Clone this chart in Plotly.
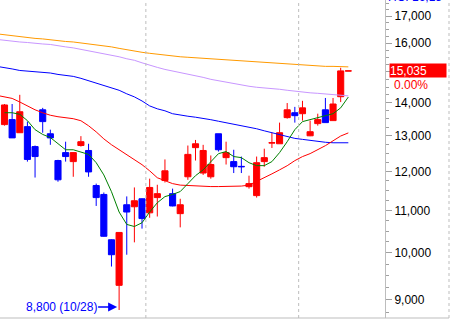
import math
import plotly.graph_objects as go

# ---- data ----
dates = ["10/07", "10/08", "10/09", "10/10", "10/13", "10/14", "10/15", "10/16", "10/17", "10/20",
         "10/21", "10/22", "10/23", "10/24", "10/27", "10/28", "10/29", "10/30", "10/31", "11/03",
         "11/04", "11/05", "11/06", "11/07", "11/10", "11/11", "11/12", "11/13", "11/14", "11/17",
         "11/18", "11/19", "11/20", "11/21", "11/24", "11/25", "11/26", "11/27", "11/28", "12/01",
         "12/02", "12/03", "12/04", "12/05", "12/08", "12/09"]
open_ = [13330, 13480, 13090, 13270, 12690, 13780, 13060, 12300, 12520, 12270,
         12720, 12580, 11630, 11400, 10300, 9300, 11140, 11090, 11290, 10940,
         11320, 11760, 11420, 10920, 11860, 12660, 11960, 11860, 13060, 12380,
         12270, 12140, 11600, 11370, 12270, 12790, 12770, 13540, 13690, 13660,
         13000, 13360, 13780, 13450, 14190, 15030]
high = [13960, 13960, 14250, 13420, 12720, 13840, 13180, 12320, 12830, 12530,
        12990, 12770, 11680, 11450, 10310, 10470, 11350, 11580, 11300, 11810,
        11650, 12330, 11550, 11290, 12720, 12880, 12740, 12440, 13060, 12830,
        12600, 12410, 11890, 12410, 12630, 13090, 13390, 13990, 13870, 14060,
        13450, 13660, 14150, 14150, 15140, 15035]
low = [13300, 12940, 13090, 12270, 11840, 13090, 12740, 11730, 12270, 11860,
       12690, 11860, 11110, 10370, 9700, 8800, 9960, 10240, 10560, 10820,
       10850, 11710, 11100, 10590, 11780, 12300, 11910, 11810, 12550, 12190,
       11960, 11960, 11550, 11320, 12130, 12650, 12770, 13510, 13390, 13450,
       12990, 13300, 13390, 13450, 14020, 15030]
close = [13930, 12940, 13720, 12330, 12410, 13420, 12940, 11780, 12410, 12520,
         12830, 11990, 11320, 10380, 9960, 10470, 10960, 11240, 10800, 11580,
         11420, 12020, 11110, 11140, 12470, 12770, 12580, 12190, 12600, 12520,
         12130, 12130, 11680, 12240, 12380, 12800, 13090, 13780, 13600, 13840,
         13120, 13480, 13390, 13960, 15035, 15035]

# moving averages; the long ones start one session before the first candle
ma_long_start = -1
ma120 = [16336, 16299, 16262, 16225, 16207, 16170, 16151, 16114, 16077, 16059, 16041, 16004,
         15969, 15951, 15917, 15865, 15813, 15761, 15726, 15674, 15639, 15604, 15570, 15552,
         15518, 15500, 15483, 15448, 15431, 15414, 15396, 15379, 15362, 15344, 15327, 15327,
         15309, 15292, 15275, 15240, 15223, 15205, 15205, 15188, 15188, 15171, 15171]
ma60 = [16133, 16096, 16059, 16041, 16022, 15986, 15969, 15951, 15899, 15865, 15830, 15778,
        15743, 15691, 15639, 15587, 15518, 15448, 15396, 15309, 15223, 15153, 15084, 15032,
        14980, 14932, 14883, 14818, 14753, 14704, 14656, 14607, 14558, 14526, 14493, 14477,
        14461, 14428, 14396, 14363, 14347, 14314, 14298, 14282, 14266, 14233, 14217]
ma40 = [15188, 15153, 15101, 15049, 15031, 14997, 14981, 14964, 14916, 14883, 14851, 14786,
        14704, 14623, 14558, 14477, 14396, 14282, 14185, 14055, 13900, 13810, 13749, 13659,
        13613, 13583, 13553, 13523, 13478, 13432, 13387, 13342, 13312, 13267, 13207, 13146,
        13085, 13025, 12967, 12925, 12897, 12869, 12827, 12813, 12799, 12799, 12799]
ma20 = [14233, 14184, 14136, 14023, 13900, 13780, 13689, 13613, 13568, 13538, 13508, 13447,
        13296, 13115, 12911, 12743, 12604, 12465, 12325, 12186, 12019, 11835, 11757, 11680,
        11641, 11628, 11616, 11603, 11603, 11603, 11603, 11603, 11616, 11641, 11732, 11835,
        11938, 12045, 12158, 12297, 12409, 12492, 12604, 12716, 12855, 12994, 13085]
ma5 = [13690, 13690, 13640, 13450, 13180, 13040, 12950, 12770, 12600, 12600,
       12530, 12470, 12240, 11910, 11470, 10960, 10660, 10610, 10700, 10960,
       11190, 11345, 11400, 11474, 11680, 11890, 12045, 12270, 12490, 12550,
       12410, 12380, 12240, 12160, 12160, 12270, 12520, 12830, 13180, 13420,
       13480, 13550, 13600, 13660, 13840, 14180]

y_ticks = [9000, 10000, 11000, 12000, 13000, 14000, 15000, 16000, 17000]
y_min, y_max = 8644, 17622
hc_text = "HC: 16,15"

# ---- figure ----
n = len(close)
xs = list(range(n))
xs_long = list(range(ma_long_start, ma_long_start + len(ma120)))

fig = go.Figure()
for vals, col, xx in [(ma120, "#FF9A00", xs_long), (ma60, "#C896FF", xs_long),
                      (ma40, "#0000FF", xs_long), (ma20, "#FF0000", xs_long),
                      (ma5, "#008000", xs)]:
    fig.add_trace(go.Scatter(x=xx, y=vals, mode="lines", line=dict(color=col, width=1),
                             hoverinfo="skip", showlegend=False))

fig.add_trace(go.Candlestick(
    x=xs, open=open_, high=high, low=low, close=close, text=dates,
    increasing=dict(line=dict(color="#FF0000", width=1), fillcolor="#FF0000"),
    decreasing=dict(line=dict(color="#0000FF", width=1), fillcolor="#0000FF"),
    whiskerwidth=0, showlegend=False))

# month boundaries
shapes = []
for i in range(1, n):
    if dates[i][:2] != dates[i - 1][:2]:
        shapes.append(dict(type="line", xref="x", yref="paper", x0=i - 0.5, x1=i - 0.5, y0=0, y1=1,
                           line=dict(color="#BDBDBD", width=1, dash="3px,3px")))
right_edge = 449 / 385
shapes.append(dict(type="line", xref="paper", yref="paper", x0=right_edge, x1=right_edge, y0=0, y1=1,
                   line=dict(color="#BDBDBD", width=1, dash="3px,3px")))
shapes.append(dict(type="line", xref="paper", yref="paper", x0=0, x1=right_edge, y0=0, y1=0,
                   line=dict(color="#BDBDBD", width=1)))

imin = min(range(n), key=lambda k: low[k])
last = close[-1]
prev = close[-2]
chg = (last - prev) / prev * 100

annotations = [
    dict(x=imin, y=math.log10(low[imin]), xref="x", yref="y", text=f"{low[imin]:,} ({dates[imin]})",
         showarrow=True, ax=-58, ay=0, arrowhead=2, arrowsize=1.2, arrowwidth=1.5, arrowcolor="#0000FF",
         standoff=2, yshift=3, font=dict(family="Liberation Sans, Arial", size=12, color="#0000FF")),
    dict(x=389 / 385, y=math.log10(last), xref="paper", yref="y", xanchor="left", yanchor="middle",
         text=f"{last:,}", showarrow=False, bgcolor="#FF0000", width=56, height=13, align="left",
         borderpad=0, font=dict(family="Liberation Sans, Arial", size=12, color="#FFFFFF")),
    dict(x=392 / 385, y=math.log10(last), xref="paper", yref="y", xanchor="left", yanchor="middle",
         yshift=-14, text=f"{chg:.2f}%", showarrow=False,
         font=dict(family="Liberation Sans, Arial", size=12, color="#FF0000")),
    dict(x=386 / 385, y=1, xref="paper", yref="paper", xanchor="left", yanchor="bottom", yshift=-6,
         text=hc_text, showarrow=False, font=dict(family="Liberation Sans, Arial", size=12, color="#0000FF")),
]

minor_vals = [v for v in range(8750, 17750, 250) if v % 1000 != 0]

fig.update_layout(
    width=451, height=320, margin=dict(l=0, r=66, t=0, b=2),
    paper_bgcolor="white", plot_bgcolor="white",
    boxgap=0.2, boxgroupgap=0, hovermode=False,
    xaxis=dict(range=[-0.589, 49.8], showgrid=False, zeroline=False, showticklabels=False,
               ticks="", rangeslider=dict(visible=False), showline=False, fixedrange=True),
    yaxis=dict(type="log", range=[math.log10(y_min), math.log10(y_max)], side="right",
               tickvals=y_ticks, ticktext=[f"{v:,}" for v in y_ticks],
               ticks="outside", ticklen=6, tickcolor="#A0A0A0", showgrid=False, zeroline=False,
               showline=True, linecolor="#BDBDBD", linewidth=1,
               tickfont=dict(family="Liberation Sans, Arial", size=12, color="#000000"),
               minor=dict(tickvals=minor_vals, ticks="outside", ticklen=3, tickcolor="#A0A0A0")),
    shapes=shapes, annotations=annotations,
)

fig.write_html("out.html")
